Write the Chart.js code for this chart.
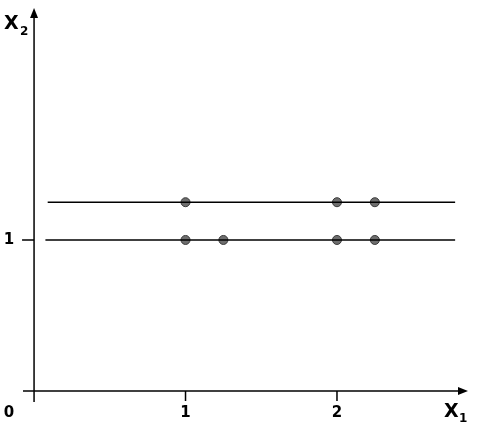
<!DOCTYPE html>
<html>
<head>
<meta charset="utf-8">
<script src="https://cdn.jsdelivr.net/npm/chart.js@4/dist/chart.umd.min.js"></script>
<style>
  html, body { margin: 0; padding: 0; background: #fff; }
  #wrap { width: 480px; height: 426px; }
</style>
</head>
<body>
<div id="wrap"><canvas id="chart"></canvas></div>
<script>
// rows of points (x1, x2)
const lowerX = [1, 1.25, 2, 2.25];
const lowerY = 1;
const upperX = [1, 2, 2.25];
const upperY = 1.25;
// horizontal lines: [start, end] in x1
const lowerLine = [0.075, 2.78];
const upperLine = [0.09, 2.78];
// tick labels
const xTicks = [1, 2];
const yTicks = [1];
const originLabel = '0';

const points = lowerX.map(x => ({x: x, y: lowerY}))
  .concat(upperX.map(x => ({x: x, y: upperY})));

const axesPlugin = {
  id: 'axes',
  afterDraw(chart) {
    const ctx = chart.ctx;
    const xs = chart.scales.x, ys = chart.scales.y;
    const x0 = xs.getPixelForValue(0), y0 = ys.getPixelForValue(0);
    const area = chart.chartArea;
    ctx.save();
    ctx.strokeStyle = '#000';
    ctx.fillStyle = '#000';
    ctx.lineWidth = 1.5;
    // x axis
    ctx.beginPath();
    ctx.moveTo(area.left, y0);
    ctx.lineTo(area.right - 8, y0);
    ctx.stroke();
    ctx.beginPath();
    ctx.moveTo(area.right, y0);
    ctx.lineTo(area.right - 10, y0 - 4);
    ctx.lineTo(area.right - 10, y0 + 4);
    ctx.closePath();
    ctx.fill();
    // y axis
    ctx.beginPath();
    ctx.moveTo(x0, area.bottom);
    ctx.lineTo(x0, area.top + 8);
    ctx.stroke();
    ctx.beginPath();
    ctx.moveTo(x0, area.top);
    ctx.lineTo(x0 - 4, area.top + 10);
    ctx.lineTo(x0 + 4, area.top + 10);
    ctx.closePath();
    ctx.fill();
    // ticks
    ctx.beginPath();
    xTicks.forEach(v => {
      const px = xs.getPixelForValue(v);
      ctx.moveTo(px, y0);
      ctx.lineTo(px, y0 + 10);
    });
    yTicks.forEach(v => {
      const py = ys.getPixelForValue(v);
      ctx.moveTo(x0, py);
      ctx.lineTo(x0 - 12, py);
    });
    ctx.stroke();
    // labels
    ctx.font = 'bold 15px "DejaVu Sans"';
    ctx.textAlign = 'center';
    ctx.textBaseline = 'middle';
    xTicks.forEach(v => ctx.fillText(String(v), xs.getPixelForValue(v), y0 + 22));
    yTicks.forEach(v => ctx.fillText(String(v), x0 - 25, ys.getPixelForValue(v)));
    ctx.fillText(originLabel, x0 - 25, y0 + 22);
    // axis names
    ctx.textAlign = 'left';
    ctx.font = 'bold 19px "DejaVu Sans"';
    ctx.fillText('X', area.right - 24, y0 + 21);
    ctx.font = 'bold 12px "DejaVu Sans"';
    ctx.fillText('1', area.right - 9, y0 + 28);
    ctx.font = 'bold 19px "DejaVu Sans"';
    ctx.fillText('X', x0 - 30, area.top + 16);
    ctx.font = 'bold 12px "DejaVu Sans"';
    ctx.fillText('2', x0 - 14, area.top + 24);
    ctx.restore();
  }
};

new Chart(document.getElementById('chart'), {
  type: 'scatter',
  data: {
    datasets: [{
        type: 'line',
        data: [{x: lowerLine[0], y: lowerY}, {x: lowerLine[1], y: lowerY}],
        borderColor: '#000',
        borderWidth: 1.5,
        pointRadius: 0,
        fill: false
      }, {
        type: 'line',
        data: [{x: upperLine[0], y: upperY}, {x: upperLine[1], y: upperY}],
        borderColor: '#000',
        borderWidth: 1.5,
        pointRadius: 0,
        fill: false
      }, {
        data: points,
        backgroundColor: '#6e6e6e',
        borderColor: '#3a3a3a',
        borderWidth: 1,
        pointRadius: 4.5
      }
    ]
  },
  options: {
    responsive: true,
    maintainAspectRatio: false,
    animation: false,
    layout: { padding: { left: 23, right: 12, top: 8, bottom: 24 } },
    plugins: { legend: { display: false }, tooltip: { enabled: false } },
    scales: {
      x: { type: 'linear', min: -0.073, max: 2.865, display: false },
      y: { type: 'linear', min: -0.073, max: 2.536, display: false }
    }
  },
  plugins: [axesPlugin]
});
</script>
</body>
</html>
